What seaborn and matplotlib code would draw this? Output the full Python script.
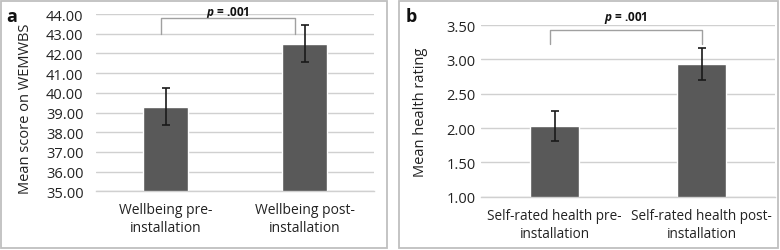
import matplotlib
matplotlib.use("Agg")
import matplotlib.pyplot as plt
import seaborn as sns
import pandas as pd
from matplotlib.patches import Rectangle
from matplotlib.ticker import FormatStrFormatter, MultipleLocator

# values
cats_a = ["Wellbeing pre-\ninstallation", "Wellbeing post-\ninstallation"]
means_a = [39.3, 42.5]
err_a = [0.93, 0.92]

cats_b = ["Self-rated health pre-\ninstallation", "Self-rated health post-\ninstallation"]
means_b = [2.03, 2.93]
err_b = [0.22, 0.23]

sns.set_style("white")
plt.rcParams['font.family'] = ['Open Sans', 'DejaVu Sans']
plt.rcParams['mathtext.fontset'] = 'custom'
plt.rcParams['mathtext.it'] = 'Open Sans:italic:bold'
plt.rcParams['mathtext.rm'] = 'Open Sans:bold'

BAR = '#595959'
GRID = '#d0d0d0'
BORDER = '#bfbfbf'

fig = plt.figure(figsize=(7.8, 2.51), dpi=100)
ax_a = fig.add_axes([96 / 780, 1 - 192.3 / 251, 278 / 780, 177.3 / 251])
ax_b = fig.add_axes([481 / 780, 1 - 197.7 / 251, 294 / 780, 171.7 / 251])

# panel borders
fig.patches.append(Rectangle((1 / 780, 2 / 251), 386 / 780, 247 / 251, transform=fig.transFigure,
                             fill=False, edgecolor=BORDER, linewidth=1.3))
fig.patches.append(Rectangle((399.5 / 780, 2 / 251), 378 / 780, 247 / 251, transform=fig.transFigure,
                             fill=False, edgecolor=BORDER, linewidth=1.3))


def draw(ax, cats, means, errs, ylim, step, ylabel, width, tick_pad, ylab_xy, xsize):
    df = pd.DataFrame({'cat': cats, 'mean': means})
    sns.barplot(data=df, x='cat', y='mean', color=BAR, saturation=1, width=width,
                errorbar=None, ax=ax, zorder=2)
    ax.errorbar(x=range(len(cats)), y=means, yerr=errs, fmt='none', ecolor='#1a1a1a',
                elinewidth=1.2, capsize=2.7, capthick=1.2, zorder=3)
    ax.set_ylim(*ylim)
    ax.set_xlim(-0.5, len(cats) - 0.5)
    ax.yaxis.set_major_locator(MultipleLocator(step))
    ax.yaxis.set_major_formatter(FormatStrFormatter('%.2f'))
    ax.grid(axis='y', color=GRID, linewidth=1, zorder=0)
    ax.set_axisbelow(True)
    for s in ['top', 'right', 'left']:
        ax.spines[s].set_visible(False)
    ax.spines['bottom'].set_color(GRID)
    ax.spines['bottom'].set_linewidth(1)
    ax.tick_params(axis='both', length=0, colors='#222222')
    ax.tick_params(axis='y', labelsize=10.5, pad=tick_pad)
    ax.tick_params(axis='x', labelsize=xsize, pad=8)
    for t in ax.get_xticklabels():
        t.set_linespacing(1.25)
    ax.set_xlabel('')
    ax.set_ylabel(ylabel, fontsize=10.5, color='#222222')
    ax.yaxis.set_label_coords(*ylab_xy)


draw(ax_a, cats_a, means_a, err_a, (35, 44), 1, 'Mean score on WEMWBS', 0.32, 9,
     (-0.227, 0.473), 10)
draw(ax_b, cats_b, means_b, err_b, (1, 3.5), 0.5, 'Mean health rating', 0.33, 4,
     (-0.18, 0.496), 9.8)

# significance brackets
ax_a.plot([-0.03, -0.03, 0.93, 0.93], [43.0, 43.78, 43.78, 43.0], color='#a0a0a0',
          linewidth=1, clip_on=False, zorder=4)
ax_a.text(0.45, 44.12, '$p$ = .001', ha='center', va='center', fontsize=8.5,
          fontweight='bold', color='#111111')

ax_b.plot([-0.03, -0.03, 1.0, 1.0], [3.22, 3.43, 3.43, 3.22], color='#a0a0a0',
          linewidth=1, clip_on=False, zorder=4)
ax_b.text(0.485, 3.61, '$p$ = .001', ha='center', va='center', fontsize=8.5,
          fontweight='bold', color='#111111', clip_on=False)

# panel letters
fig.text(6 / 780, 1 - 17 / 251, 'a', fontsize=13, fontweight='bold', va='center', color='#111111')
fig.text(406 / 780, 1 - 17 / 251, 'b', fontsize=13, fontweight='bold', va='center', color='#111111')

fig.savefig('out.png', dpi=100)
